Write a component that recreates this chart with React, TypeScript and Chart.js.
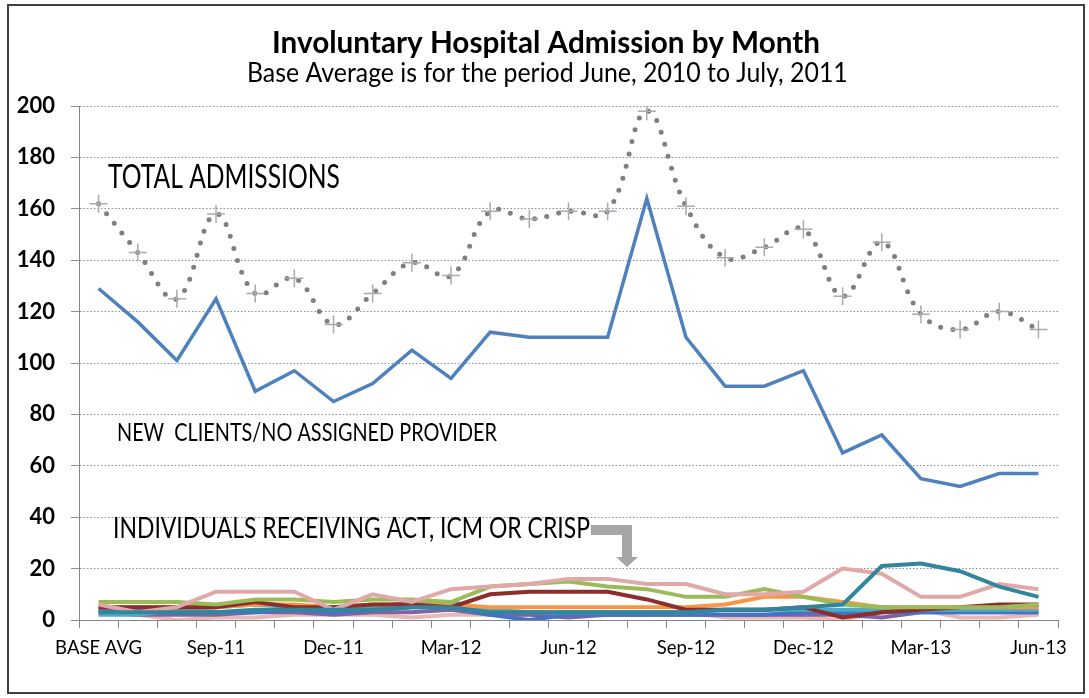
import React, { useEffect, useRef } from 'react';
import { Chart, registerables } from 'chart.js';

Chart.register(...registerables);

const categories = [
  'BASE AVG', 'Jul-11', 'Aug-11', 'Sep-11', 'Oct-11', 'Nov-11', 'Dec-11',
  'Jan-12', 'Feb-12', 'Mar-12', 'Apr-12', 'May-12', 'Jun-12', 'Jul-12',
  'Aug-12', 'Sep-12', 'Oct-12', 'Nov-12', 'Dec-12', 'Jan-13', 'Feb-13',
  'Mar-13', 'Apr-13', 'May-13', 'Jun-13',
];

const totalAdmissions = [162, 143, 125, 158, 127, 133, 115, 127, 139, 134, 159, 156, 159, 159, 198, 161, 141, 145, 152, 126, 147, 119, 113, 120, 113];
const newClients = [129, 116, 101, 125, 89, 97, 85, 92, 105, 94, 112, 110, 110, 110, 164, 110, 91, 91, 97, 65, 72, 55, 52, 57, 57];

const actGreen = [7, 7, 7, 6, 8, 8, 7, 8, 8, 7, 13, 14, 15, 13, 12, 9, 9, 12, 9, 6, 5, 5, 5, 5, 6];
const icmDarkRed = [5, 5, 5, 5, 7, 5, 5, 6, 6, 5, 10, 11, 11, 11, 8, 4, 4, 4, 5, 1, 3, 4, 5, 6, 6];
const crispPink = [6, 3, 5, 11, 11, 11, 4, 10, 7, 12, 13, 14, 16, 16, 14, 14, 10, 10, 11, 20, 18, 9, 9, 14, 12];
const lowPink = [4, 2, 0, 1, 1, 2, 2, 2, 1, 2, 2, 2, 2, 2, 2, 3, 1, 1, 1, 0, 3, 4, 1, 1, 2];
const orangeSeries = [5, 5, 5, 5, 6, 6, 5, 6, 6, 6, 5, 5, 5, 5, 5, 5, 6, 9, 9, 7, 5, 5, 5, 5, 5];
const tealSeries = [3, 3, 3, 3, 4, 4, 4, 4, 5, 5, 3, 3, 3, 3, 3, 3, 4, 4, 5, 6, 21, 22, 19, 13, 9];
const aquaSeries = [2, 2, 4, 5, 6, 5, 4, 5, 7, 7, 4, 3, 3, 3, 3, 3, 4, 4, 4, 4, 4, 4, 4, 4, 4];
const blueSeries = [4, 4, 3, 3, 3, 4, 3, 4, 5, 5, 2, 0, 2, 2, 2, 2, 2, 2, 3, 3, 3, 3, 3, 3, 3];
const purpleSeries = [3, 2, 2, 2, 3, 3, 2, 3, 3, 4, 2, 2, 1, 2, 2, 2, 2, 2, 2, 2, 1, 3, 3, 3, 3];

const titleText = 'Involuntary Hospital Admission by Month';
const subtitleText = 'Base Average is for the period June, 2010 to July, 2011';
const totalLabel = 'TOTAL ADMISSIONS';
const newLabel = 'NEW  CLIENTS/NO ASSIGNED PROVIDER';
const indivLabel = 'INDIVIDUALS RECEIVING ACT, ICM OR CRISP';

const FONT = 'Lato, "Open Sans", sans-serif';

function fitFont(ctx: CanvasRenderingContext2D, text: string, target: number, weight: string) {
  ctx.font = `${weight} 20px ${FONT}`;
  const w = ctx.measureText(text).width;
  const size = (20 * target) / w;
  ctx.font = `${weight} ${size.toFixed(2)}px ${FONT}`;
}

function tallText(ctx: CanvasRenderingContext2D, text: string, x: number, y: number, stretch: number) {
  ctx.save();
  ctx.translate(x, y);
  ctx.scale(1, stretch);
  ctx.fillText(text, 0, 0);
  ctx.restore();
}

export default function App() {
  const ref = useRef<HTMLCanvasElement>(null);

  useEffect(() => {
    const canvas = ref.current;
    if (!canvas) return;

    const decor = {
      id: 'decor',
      beforeDraw(chart: any) {
        const ctx = chart.ctx;
        ctx.save();
        ctx.fillStyle = '#ffffff';
        ctx.fillRect(0, 0, chart.width, chart.height);
        ctx.restore();
      },
      afterDraw(chart: any) {
        const ctx: CanvasRenderingContext2D = chart.ctx;
        const area = chart.chartArea;
        const ys = chart.scales.y;
        ctx.save();
        // frame
        ctx.strokeStyle = '#404040';
        ctx.lineWidth = 2;
        ctx.strokeRect(8, 5, 1076, 688);

        ctx.fillStyle = '#000000';
        ctx.textBaseline = 'alphabetic';
        ctx.textAlign = 'left';
        // titles
        fitFont(ctx, titleText, 548, 'bold');
        ctx.fillText(titleText, 272, 53);
        fitFont(ctx, subtitleText, 601, 'normal');
        tallText(ctx, subtitleText, 247, 82, 1.1);

        // annotations
        const stretch = 1.3;
        fitFont(ctx, totalLabel, 232, 'normal');
        tallText(ctx, totalLabel, area.left + 29, ys.getPixelForValue(168), stretch);
        fitFont(ctx, newLabel, 380, 'normal');
        tallText(ctx, newLabel, area.left + 38, ys.getPixelForValue(69.5), stretch);
        fitFont(ctx, indivLabel, 477, 'normal');
        const indX = area.left + 34;
        const indY = ys.getPixelForValue(32);
        tallText(ctx, indivLabel, indX, indY, stretch);
        const textEnd = indX + ctx.measureText(indivLabel).width;

        // elbow arrow
        const barY = ys.getPixelForValue(35);
        const cornerX = area.left + 548;
        const tipY = ys.getPixelForValue(20.6);
        ctx.strokeStyle = '#A6A6A6';
        ctx.fillStyle = '#A6A6A6';
        ctx.lineWidth = 10;
        ctx.lineCap = 'butt';
        ctx.lineJoin = 'miter';
        ctx.beginPath();
        ctx.moveTo(textEnd + 1, barY);
        ctx.lineTo(cornerX, barY);
        ctx.lineTo(cornerX, tipY - 10);
        ctx.stroke();
        ctx.beginPath();
        ctx.moveTo(cornerX - 11, tipY - 10);
        ctx.lineTo(cornerX + 11, tipY - 10);
        ctx.lineTo(cornerX, tipY);
        ctx.closePath();
        ctx.fill();
        ctx.restore();
      },
    };

    const small = (data: number[], color: string) => ({
      data,
      borderColor: color,
      backgroundColor: color,
      borderWidth: 4,
      pointRadius: 0,
      tension: 0,
      fill: false,
    });

    const chart = new Chart(canvas, {
      type: 'line',
      data: {
        labels: categories,
        datasets: [
          {
            data: totalAdmissions,
            borderColor: '#7F7F7F',
            backgroundColor: '#7F7F7F',
            borderWidth: 5,
            borderDash: [0, 12.5],
            borderCapStyle: 'round',
            tension: 0.4,
            pointStyle: 'cross',
            pointRadius: 9,
            pointBorderColor: '#ABABAB',
            pointBorderWidth: 1.5,
            fill: false,
          },
          {
            data: newClients,
            borderColor: '#4F81BD',
            backgroundColor: '#4F81BD',
            borderWidth: 3.5,
            pointRadius: 0,
            tension: 0,
            fill: false,
          },
          small(tealSeries, '#31859C'),
          small(crispPink, '#E0A9A8'),
          small(actGreen, '#9BBB59'),
          small(icmDarkRed, '#8B2E2C'),
          small(orangeSeries, '#F79646'),
          small(aquaSeries, '#4BACC6'),
          small(blueSeries, '#4472C4'),
          small(purpleSeries, '#8064A2'),
          small(lowPink, '#E6B9B8'),
        ],
      },
      options: {
        responsive: false,
        animation: false,
        events: [],
        layout: { padding: { left: 0, right: 31, top: 106, bottom: 0 } },
        plugins: {
          legend: { display: false },
          title: { display: false },
          tooltip: { enabled: false },
        },
        scales: {
          x: {
            type: 'category',
            offset: true,
            afterFit: (s: any) => { s.height = 78; },
            grid: {
              display: true,
              offset: true,
              drawOnChartArea: false,
              drawTicks: true,
              tickLength: 8,
              color: '#868686',
              lineWidth: 1,
            },
            border: { display: true, color: '#868686', width: 1 },
            ticks: {
              autoSkip: false,
              maxRotation: 0,
              minRotation: 0,
              padding: 9,
              color: '#000000',
              font: { family: FONT, size: 18.5 },
              callback: (_v: any, i: number) => (i % 3 === 0 ? categories[i] : ''),
            },
          },
          y: {
            min: 0,
            max: 200,
            afterFit: (s: any) => { s.width = 79; },
            grid: {
              display: true,
              drawTicks: true,
              tickLength: 8,
              color: '#8090A8',
              lineWidth: 1,
            },
            border: { display: true, color: '#868686', width: 1, dash: [1.5, 2] },
            ticks: {
              stepSize: 20,
              padding: 16,
              color: '#000000',
              font: { family: FONT, size: 22, weight: 'bold' },
            },
          },
        },
      },
      plugins: [decor],
    } as any);

    return () => chart.destroy();
  }, []);

  return (
    <div style={{ position: 'absolute', left: 0, top: 0, width: 1089, height: 698 }}>
      <canvas ref={ref} width={1089} height={698} style={{ display: 'block' }} />
    </div>
  );
}
